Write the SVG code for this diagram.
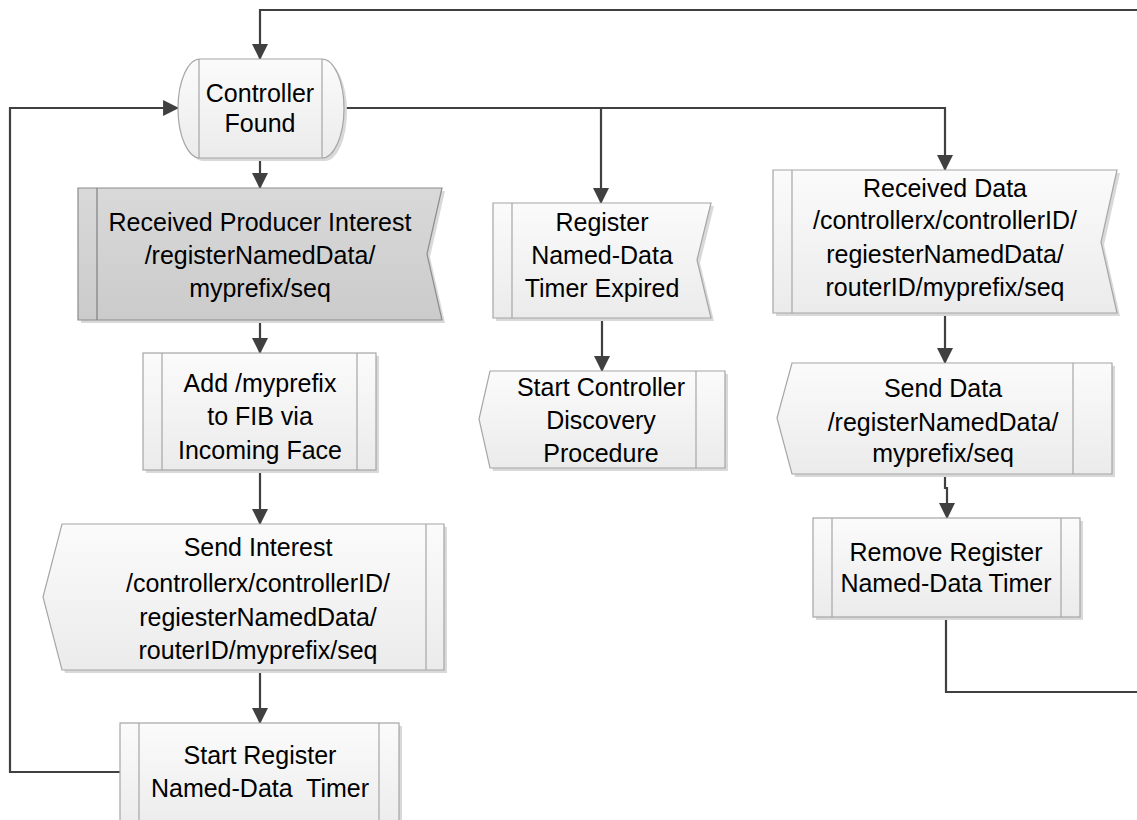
<svg xmlns="http://www.w3.org/2000/svg" width="1137" height="820" viewBox="0 0 1137 820">
<style>
.box{fill:url(#lg);stroke:#a6a6a6;stroke-width:1.2}
.gbox{fill:url(#gg);stroke:#8c8c8c;stroke-width:1.2}
.sh{fill:#d9d9d9;stroke:none}
.div{stroke:#a6a6a6;stroke-width:1.2;fill:none}
.gdiv{stroke:#7f7f7f;stroke-width:1.2;fill:none}
.t{font-family:"Liberation Sans",Arial,sans-serif;font-size:25px;fill:#000;text-anchor:middle;white-space:pre}
.c{fill:none;stroke:#404040;stroke-width:2.2}
.ca{fill:none;stroke:#404040;stroke-width:2.2;marker-end:url(#ah)}
</style>
<defs>
<linearGradient id="lg" x1="0" y1="0" x2="0" y2="1">
<stop offset="0" stop-color="#fbfbfb"/><stop offset="1" stop-color="#ebebeb"/>
</linearGradient>
<linearGradient id="gg" x1="0" y1="0" x2="0" y2="1">
<stop offset="0" stop-color="#d9d9d9"/><stop offset="1" stop-color="#cbcbcb"/>
</linearGradient>
<marker id="ah" markerUnits="userSpaceOnUse" markerWidth="16" markerHeight="16" viewBox="0 0 15 15" refX="14" refY="7.5" orient="auto">
<path d="M0,0 L15,7.5 L0,15 Z" fill="#404040"/>
</marker>
</defs>

<g id="connectors">
<path class="c" d="M946,617 V692 H1145"/>
<path class="ca" d="M1145,10 H260 V59"/>
<path class="ca" d="M260,158 V188"/>
<path class="ca" d="M343,108 H945 V170"/>
<path class="ca" d="M601,108 V203"/>
<path class="ca" d="M260,320 V353"/>
<path class="ca" d="M260,470 V524"/>
<path class="ca" d="M260,670 V723"/>
<path class="ca" d="M120,772 H10 V108 H178"/>
<path class="ca" d="M602,318 V371"/>
<path class="ca" d="M945,313 V363"/>
<path class="ca" d="M945,474 V488 H947 V518"/>
</g>

<g id="controller-found">
<path class="sh" transform="translate(3,3)" d="M200,59 H322 A22 49.5 0 0 1 322,158 H200 A22 49.5 0 0 1 200,59 Z"/>
<path class="box" d="M200,59 H322 A22 49.5 0 0 1 322,158 H200 A22 49.5 0 0 1 200,59 Z"/>
<path class="div" d="M199,59 V158 M322,59 V158"/>
<text class="t" x="260" y="102">Controller</text>
<text class="t" x="260" y="132">Found</text>
</g>

<g id="received-producer-interest">
<path class="sh" transform="translate(3,3)" d="M78,188 H442 L427,254 L442,320 H78 Z"/>
<path class="gbox" d="M78,188 H442 L427,254 L442,320 H78 Z"/>
<path class="gdiv" d="M97,188 V320"/>
<text class="t" x="260" y="231">Received Producer Interest</text>
<text class="t" x="260" y="264">/registerNamedData/</text>
<text class="t" x="260" y="297">myprefix/seq</text>
</g>

<g id="add-myprefix">
<rect class="sh" x="146" y="356" width="233" height="117"/>
<rect class="box" x="143" y="353" width="233" height="117"/>
<path class="div" d="M162,353 V470 M357,353 V470"/>
<text class="t" x="260" y="392">Add /myprefix</text>
<text class="t" x="260" y="425">to FIB via</text>
<text class="t" x="260" y="459">Incoming Face</text>
</g>

<g id="send-interest">
<path class="sh" transform="translate(3,3)" d="M62,524 H444 V670 H62 L43,597 Z"/>
<path class="box" d="M62,524 H444 V670 H62 L43,597 Z"/>
<path class="div" d="M426,524 V670"/>
<text class="t" x="258" y="556">Send Interest</text>
<text class="t" x="258" y="592">/controllerx/controllerID/</text>
<text class="t" x="258" y="626">regiesterNamedData/</text>
<text class="t" x="258" y="659">routerID/myprefix/seq</text>
</g>

<g id="start-register-timer">
<rect class="sh" x="123" y="726" width="279" height="110"/>
<rect class="box" x="120" y="723" width="279" height="110"/>
<path class="div" d="M139,723 V833 M379,723 V833"/>
<text class="t" x="260" y="764">Start Register</text>
<text class="t" x="260" y="797" xml:space="preserve">Named-Data  Timer</text>
</g>

<g id="register-timer-expired">
<path class="sh" transform="translate(3,3)" d="M493,203 H711 L697,260 L711,318 H493 Z"/>
<path class="box" d="M493,203 H711 L697,260 L711,318 H493 Z"/>
<path class="div" d="M512,203 V318"/>
<text class="t" x="602" y="231">Register</text>
<text class="t" x="602" y="264">Named-Data</text>
<text class="t" x="602" y="297">Timer Expired</text>
</g>

<g id="start-controller-discovery">
<path class="sh" transform="translate(3,3)" d="M490,371 H725 V468 H490 L479,419 Z"/>
<path class="box" d="M490,371 H725 V468 H490 L479,419 Z"/>
<path class="div" d="M696,371 V468"/>
<text class="t" x="601" y="396">Start Controller</text>
<text class="t" x="601" y="429">Discovery</text>
<text class="t" x="601" y="462">Procedure</text>
</g>

<g id="received-data">
<path class="sh" transform="translate(3,3)" d="M773,170 H1117 L1101,242 L1117,313 H773 Z"/>
<path class="box" d="M773,170 H1117 L1101,242 L1117,313 H773 Z"/>
<path class="div" d="M792,170 V313"/>
<text class="t" x="945" y="197">Received Data</text>
<text class="t" x="945" y="229">/controllerx/controllerID/</text>
<text class="t" x="945" y="263">regiesterNamedData/</text>
<text class="t" x="945" y="296">routerID/myprefix/seq</text>
</g>

<g id="send-data">
<path class="sh" transform="translate(3,3)" d="M792,363 H1112 V474 H792 L777,418 Z"/>
<path class="box" d="M792,363 H1112 V474 H792 L777,418 Z"/>
<path class="div" d="M1073,363 V474"/>
<text class="t" x="943" y="397">Send Data</text>
<text class="t" x="943" y="431">/registerNamedData/</text>
<text class="t" x="943" y="462">myprefix/seq</text>
</g>

<g id="remove-register-timer">
<rect class="sh" x="816" y="521" width="267" height="99"/>
<rect class="box" x="813" y="518" width="267" height="99"/>
<path class="div" d="M832,518 V617 M1061,518 V617"/>
<text class="t" x="946" y="561">Remove Register</text>
<text class="t" x="946" y="592">Named-Data Timer</text>
</g>
</svg>
